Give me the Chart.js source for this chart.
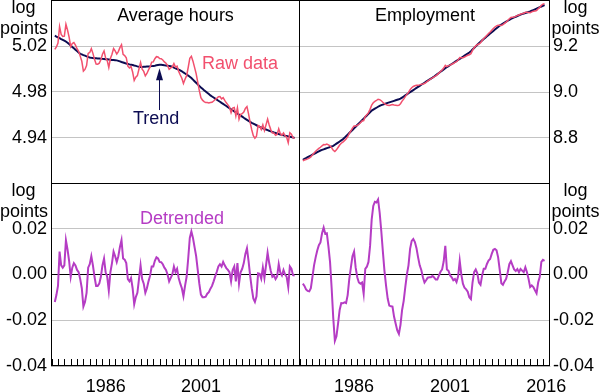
<!DOCTYPE html>
<html>
<head>
<meta charset="utf-8">
<script src="https://cdn.jsdelivr.net/npm/chart.js@4.4.0/dist/chart.umd.min.js"></script>
<style>
  body { margin: 0; background: #fff; }
  #wrap { position: relative; width: 600px; height: 392px; overflow: hidden;
          font-family: "Liberation Sans", Arial, sans-serif; font-size: 18px; color: #000; }
  canvas { position: absolute; }
  .lbl { position: absolute; line-height: 21px; white-space: nowrap; }
</style>
</head>
<body>
<div id="wrap">
  <canvas id="horas" width="300" height="184" style="left:0;top:0"></canvas>
  <canvas id="empleo" width="302" height="184" style="left:299px;top:0"></canvas>
  <canvas id="horasDet" width="300" height="209" style="left:0;top:183px"></canvas>
  <canvas id="empleoDet" width="302" height="209" style="left:299px;top:183px"></canvas>

  <div class="lbl" style="left:0;width:47px;top:-3px;text-align:center">log<br>points</div>
  <div class="lbl" style="left:0;width:47px;top:180px;text-align:center">log<br>points</div>
  <div class="lbl" style="left:551px;width:49px;top:-3px;text-align:center">log<br>points</div>
  <div class="lbl" style="left:551px;width:49px;top:180px;text-align:center">log<br>points</div>

  <div class="lbl" style="left:51px;width:249px;top:5px;text-align:center">Average hours</div>
  <div class="lbl" style="left:300px;width:250px;top:5px;text-align:center">Employment</div>
  <div class="lbl" style="left:202px;top:53px;color:#f2506e">Raw data</div>
  <div class="lbl" style="left:133px;top:108px;color:#0c0c52">Trend</div>
  <div class="lbl" style="left:140px;top:208px;color:#b53cc4">Detrended</div>
</div>

<script>
// datos trimestrales, desde 1978 T3
const inicio = 1978.5;

const hoursRaw = [
  5.0170, 5.0192, 5.0225, 5.0368, 5.0300, 5.0283, 5.0286, 5.0389, 5.0339, 5.0277,
  5.0195, 5.0222, 5.0230, 5.0208, 5.0176, 5.0154, 5.0112, 5.0067, 4.9981, 4.9996,
  5.0030, 5.0135, 5.0144, 5.0177, 5.0136, 5.0084, 5.0043, 5.0042, 5.0051, 5.0080,
  5.0128, 5.0157, 5.0095, 5.0074, 5.0013, 5.0091, 5.0129, 5.0178, 5.0157, 5.0130,
  5.0151, 5.0186, 5.0211, 5.0127, 5.0117, 5.0098, 5.0024, 5.0010, 5.0022, 4.9974,
  4.9900, 4.9928, 4.9943, 5.0000, 5.0057, 4.9998, 4.9979, 4.9940, 4.9961, 4.9992,
  5.0018, 5.0060, 5.0062, 5.0089, 5.0107, 5.0104, 5.0091, 5.0090, 5.0079, 5.0062,
  5.0051, 5.0029, 4.9997, 5.0009, 5.0018, 5.0047, 5.0016, 5.0025, 4.9979, 4.9948,
  4.9920, 4.9875, 4.9911, 4.9942, 5.0013, 5.0093, 5.0110, 5.0068, 5.0014, 4.9960,
  4.9886, 4.9812, 4.9751, 4.9729, 4.9717, 4.9708, 4.9709, 4.9705, 4.9708, 4.9711,
  4.9722, 4.9735, 4.9745, 4.9759, 4.9760, 4.9740, 4.9751, 4.9727, 4.9706, 4.9688,
  4.9669, 4.9620, 4.9661, 4.9666, 4.9592, 4.9663, 4.9564, 4.9605, 4.9611, 4.9626,
  4.9657, 4.9673, 4.9609, 4.9535, 4.9472, 4.9420, 4.9398, 4.9416, 4.9509, 4.9500,
  4.9473, 4.9515, 4.9465, 4.9514, 4.9564, 4.9513, 4.9473, 4.9443, 4.9443, 4.9424,
  4.9431, 4.9480, 4.9438, 4.9423, 4.9444, 4.9420, 4.9407, 4.9359, 4.9446, 4.9433,
  4.9402, 4.9397
];

const hoursTrend = [
  5.0290, 5.0282, 5.0275, 5.0268, 5.0260, 5.0253, 5.0246, 5.0239, 5.0229, 5.0217,
  5.0205, 5.0192, 5.0180, 5.0168, 5.0156, 5.0144, 5.0132, 5.0127, 5.0121, 5.0116,
  5.0110, 5.0105, 5.0099, 5.0097, 5.0096, 5.0094, 5.0093, 5.0092, 5.0091, 5.0090,
  5.0088, 5.0087, 5.0085, 5.0084, 5.0083, 5.0081, 5.0079, 5.0078, 5.0077, 5.0075,
  5.0071, 5.0066, 5.0061, 5.0057, 5.0052, 5.0048, 5.0044, 5.0040, 5.0037, 5.0034,
  5.0030, 5.0027, 5.0023, 5.0020, 5.0017, 5.0018, 5.0019, 5.0020, 5.0021, 5.0022,
  5.0023, 5.0025, 5.0027, 5.0029, 5.0032, 5.0034, 5.0036, 5.0036, 5.0034, 5.0032,
  5.0031, 5.0029, 5.0027, 5.0024, 5.0018, 5.0012, 5.0006, 5.0000, 4.9994, 4.9988,
  4.9980, 4.9970, 4.9961, 4.9952, 4.9943, 4.9933, 4.9922, 4.9908, 4.9894, 4.9880,
  4.9866, 4.9852, 4.9839, 4.9828, 4.9816, 4.9805, 4.9793, 4.9782, 4.9770, 4.9761,
  4.9752, 4.9743, 4.9733, 4.9724, 4.9715, 4.9705, 4.9696, 4.9687, 4.9678, 4.9668,
  4.9659, 4.9650, 4.9641, 4.9631, 4.9622, 4.9613, 4.9604, 4.9595, 4.9586, 4.9576,
  4.9567, 4.9558, 4.9549, 4.9540, 4.9532, 4.9525, 4.9518, 4.9511, 4.9504, 4.9497,
  4.9491, 4.9485, 4.9480, 4.9474, 4.9469, 4.9463, 4.9458, 4.9453, 4.9448, 4.9444,
  4.9439, 4.9435, 4.9430, 4.9427, 4.9424, 4.9420, 4.9417, 4.9414, 4.9411, 4.9408,
  4.9405, 4.9401
];

const hoursDetrended = [
  -0.0120, -0.0090, -0.0050, 0.0100, 0.0040, 0.0030, 0.0040, 0.0150, 0.0110, 0.0060,
  -0.0010, 0.0030, 0.0050, 0.0040, 0.0020, 0.0010, -0.0020, -0.0060, -0.0140, -0.0120,
  -0.0080, 0.0030, 0.0045, 0.0080, 0.0040, -0.0010, -0.0050, -0.0050, -0.0040, -0.0010,
  0.0040, 0.0070, 0.0010, -0.0010, -0.0070, 0.0010, 0.0050, 0.0100, 0.0080, 0.0055,
  0.0080, 0.0120, 0.0150, 0.0070, 0.0065, 0.0050, -0.0020, -0.0030, -0.0015, -0.0060,
  -0.0130, -0.0099, -0.0080, -0.0020, 0.0040, -0.0020, -0.0040, -0.0080, -0.0060, -0.0030,
  -0.0005, 0.0035, 0.0035, 0.0060, 0.0075, 0.0070, 0.0055, 0.0054, 0.0045, 0.0030,
  0.0020, 0.0000, -0.0030, -0.0015, 0.0000, 0.0035, 0.0010, 0.0025, -0.0015, -0.0040,
  -0.0060, -0.0095, -0.0050, -0.0010, 0.0070, 0.0160, 0.0188, 0.0160, 0.0120, 0.0080,
  0.0020, -0.0040, -0.0088, -0.0099, -0.0099, -0.0097, -0.0084, -0.0077, -0.0062, -0.0050,
  -0.0030, -0.0008, 0.0012, 0.0035, 0.0045, 0.0035, 0.0055, 0.0040, 0.0028, 0.0020,
  0.0010, -0.0030, 0.0020, 0.0035, -0.0030, 0.0050, -0.0040, 0.0010, 0.0025, 0.0050,
  0.0090, 0.0115, 0.0060, -0.0005, -0.0060, -0.0105, -0.0120, -0.0095, 0.0005, 0.0003,
  -0.0018, 0.0030, -0.0015, 0.0040, 0.0095, 0.0050, 0.0015, -0.0010, -0.0005, -0.0020,
  -0.0008, 0.0045, 0.0008, -0.0004, 0.0020, 0.0000, -0.0010, -0.0055, 0.0035, 0.0025,
  -0.0003, -0.0004
];

const empRaw = [
  8.7013, 8.7040, 8.7062, 8.7092, 8.7127, 8.7178, 8.7265, 8.7351, 8.7423, 8.7490,
  8.7551, 8.7597, 8.7662, 8.7712, 8.7710, 8.7738, 8.7705, 8.7662, 8.7573, 8.7468,
  8.7415, 8.7483, 8.7586, 8.7694, 8.7772, 8.7819, 8.7885, 8.7951, 8.8055, 8.8194,
  8.8313, 8.8431, 8.8521, 8.8521, 8.8550, 8.8597, 8.8662, 8.8738, 8.8759, 8.8937,
  8.9015, 8.9105, 8.9244, 8.9429, 8.9531, 8.9592, 8.9631, 8.9686, 8.9670, 8.9619,
  8.9553, 8.9491, 8.9450, 8.9420, 8.9412, 8.9433, 8.9454, 8.9431, 8.9424, 8.9416,
  8.9424, 8.9493, 8.9604, 8.9690, 8.9797, 8.9898, 8.9985, 9.0103, 9.0184, 9.0239,
  9.0272, 9.0292, 9.0298, 9.0309, 9.0334, 9.0347, 9.0368, 9.0422, 9.0478, 9.0524,
  9.0569, 9.0619, 9.0660, 9.0702, 9.0754, 9.0822, 9.0891, 9.0953, 9.1040, 9.1159,
  9.1107, 9.1145, 9.1169, 9.1206, 9.1237, 9.1287, 9.1318, 9.1387, 9.1500, 9.1486,
  9.1492, 9.1521, 9.1560, 9.1596, 9.1618, 9.1668, 9.1810, 9.1923, 9.2004, 9.2056,
  9.2085, 9.2141, 9.2241, 9.2329, 9.2389, 9.2469, 9.2543, 9.2609, 9.2689, 9.2764,
  9.2826, 9.2878, 9.2904, 9.2907, 9.2893, 9.2929, 9.2985, 9.3038, 9.3108, 9.3185,
  9.3236, 9.3249, 9.3263, 9.3288, 9.3329, 9.3347, 9.3390, 9.3405, 9.3421, 9.3465,
  9.3465, 9.3459, 9.3445, 9.3484, 9.3508, 9.3525, 9.3543, 9.3621, 9.3678, 9.3774,
  9.3814, 9.3841
];

const empTrend = [
  8.7053, 8.7090, 8.7127, 8.7164, 8.7201, 8.7238, 8.7275, 8.7311, 8.7348, 8.7385,
  8.7423, 8.7457, 8.7482, 8.7507, 8.7532, 8.7558, 8.7583, 8.7608, 8.7633, 8.7658,
  8.7705, 8.7753, 8.7801, 8.7849, 8.7897, 8.7945, 8.8007, 8.8076, 8.8145, 8.8214,
  8.8283, 8.8351, 8.8421, 8.8491, 8.8562, 8.8632, 8.8702, 8.8773, 8.8843, 8.8912,
  8.8981, 8.9050, 8.9119, 8.9189, 8.9231, 8.9274, 8.9316, 8.9358, 8.9400, 8.9429,
  8.9453, 8.9476, 8.9500, 8.9525, 8.9548, 8.9572, 8.9594, 8.9616, 8.9639, 8.9661,
  8.9684, 8.9713, 8.9759, 8.9805, 8.9852, 8.9898, 8.9945, 8.9991, 9.0037, 9.0084,
  9.0130, 9.0177, 9.0223, 9.0269, 9.0314, 9.0359, 9.0403, 9.0447, 9.0492, 9.0536,
  9.0581, 9.0625, 9.0673, 9.0724, 9.0776, 9.0827, 9.0879, 9.0931, 9.0982, 9.1034,
  9.1085, 9.1129, 9.1173, 9.1218, 9.1262, 9.1307, 9.1351, 9.1395, 9.1440, 9.1486,
  9.1532, 9.1579, 9.1625, 9.1671, 9.1718, 9.1776, 9.1845, 9.1913, 9.1982, 9.2051,
  9.2120, 9.2186, 9.2245, 9.2304, 9.2364, 9.2423, 9.2482, 9.2541, 9.2599, 9.2656,
  9.2714, 9.2772, 9.2829, 9.2887, 9.2931, 9.2974, 9.3015, 9.3057, 9.3098, 9.3140,
  9.3178, 9.3209, 9.3241, 9.3273, 9.3305, 9.3337, 9.3366, 9.3388, 9.3411, 9.3433,
  9.3455, 9.3478, 9.3500, 9.3532, 9.3563, 9.3594, 9.3625, 9.3656, 9.3688, 9.3719,
  9.3750, 9.3781
];

const empDetrended = [
  -0.0040, -0.0050, -0.0065, -0.0072, -0.0074, -0.0060, -0.0010, 0.0040, 0.0075, 0.0105,
  0.0128, 0.0140, 0.0180, 0.0205, 0.0178, 0.0180, 0.0122, 0.0054, -0.0060, -0.0190,
  -0.0290, -0.0270, -0.0215, -0.0155, -0.0125, -0.0126, -0.0122, -0.0125, -0.0090, -0.0020,
  0.0030, 0.0080, 0.0100, 0.0030, -0.0012, -0.0035, -0.0040, -0.0035, -0.0084, 0.0025,
  0.0034, 0.0055, 0.0125, 0.0240, 0.0300, 0.0318, 0.0315, 0.0328, 0.0270, 0.0190,
  0.0100, 0.0015, -0.0050, -0.0105, -0.0136, -0.0139, -0.0140, -0.0185, -0.0215, -0.0245,
  -0.0260, -0.0220, -0.0155, -0.0115, -0.0055, 0.0000, 0.0040, 0.0112, 0.0147, 0.0155,
  0.0142, 0.0115, 0.0075, 0.0040, 0.0020, -0.0012, -0.0035, -0.0025, -0.0014, -0.0012,
  -0.0012, -0.0006, -0.0013, -0.0022, -0.0022, -0.0005, 0.0012, 0.0022, 0.0058, 0.0125,
  0.0022, 0.0016, -0.0004, -0.0012, -0.0025, -0.0020, -0.0033, -0.0008, 0.0060, 0.0000,
  -0.0040, -0.0058, -0.0065, -0.0075, -0.0100, -0.0108, -0.0035, 0.0010, 0.0022, 0.0005,
  -0.0035, -0.0045, -0.0004, 0.0025, 0.0025, 0.0046, 0.0061, 0.0068, 0.0090, 0.0108,
  0.0112, 0.0106, 0.0075, 0.0020, -0.0038, -0.0045, -0.0030, -0.0019, 0.0010, 0.0045,
  0.0058, 0.0040, 0.0022, 0.0015, 0.0024, 0.0010, 0.0024, 0.0017, 0.0010, 0.0032,
  0.0010, -0.0019, -0.0055, -0.0048, -0.0055, -0.0069, -0.0082, -0.0035, -0.0010, 0.0055,
  0.0064, 0.0060
];

// eje de tiempo: un punto por trimestre
const quarters = hoursRaw.map((_, i) => inicio + i / 4);

const topTicks = [4.94, 4.98, 5.02];
const empTicks = [8.8, 9.0, 9.2];
const detTicks = [-0.04, -0.02, 0, 0.02];

// flecha de "Trend"
const flechaAnio = 1994.95;
const flechaBase = 4.9643;
const flechaPunta = 5.0006;

const rosa = '#f2506e';
const azul = '#0c0c52';
const morado = '#b53cc4';

Chart.defaults.font.family = '"Liberation Sans", Arial, sans-serif';
Chart.defaults.font.size = 18;
Chart.defaults.color = '#000';

// marco negro alrededor de cada panel
const marco = {
    id: 'marco',
    afterDatasetsDraw(chart) {
        const a = chart.chartArea;
        const ctx = chart.ctx;
        ctx.save();
        ctx.strokeStyle = '#000';
        ctx.lineWidth = 1;
        ctx.strokeRect(Math.round(a.left) + 0.5, Math.round(a.top) + 0.5,
            Math.round(a.right - a.left) - 1, Math.round(a.bottom - a.top) - 1);
        ctx.restore();
    }
};

// marcas de cada año, hacia arriba desde el eje de abajo
const marcas = {
    id: 'marcas',
    afterDraw(chart) {
        const a = chart.chartArea;
        const sx = chart.scales.x;
        const ctx = chart.ctx;
        const abajo = Math.round(a.bottom);
        ctx.save();
        ctx.fillStyle = '#000';
        for (let anio = Math.ceil(sx.min); anio <= sx.max; anio++) {
            const px = Math.round(sx.getPixelForValue(anio));
            ctx.fillRect(px, abajo - 7, 1, 6);
        }
        ctx.restore();
    }
};

const flecha = {
    id: 'flecha',
    afterDatasetsDraw(chart) {
        const ctx = chart.ctx;
        const x = Math.round(chart.scales.x.getPixelForValue(flechaAnio)) + 0.5;
        const y1 = chart.scales.y.getPixelForValue(flechaBase);
        const y2 = chart.scales.y.getPixelForValue(flechaPunta);
        ctx.save();
        ctx.strokeStyle = azul;
        ctx.fillStyle = azul;
        ctx.lineWidth = 1;
        ctx.beginPath();
        ctx.moveTo(x, y1);
        ctx.lineTo(x, y2 + 8);
        ctx.stroke();
        ctx.beginPath();
        ctx.moveTo(x, y2);
        ctx.lineTo(x - 3.5, y2 + 12);
        ctx.lineTo(x + 3.5, y2 + 12);
        ctx.closePath();
        ctx.fill();
        ctx.restore();
    }
};

function cerca(lista, v) {
    return lista.some(m => Math.abs(m - v) < 1e-9);
}

function ejeY(min, max, paso, lado, etiquetas, dec) {
    return {
        position: lado,
        min: min,
        max: max,
        afterFit(s) {
            s.width = 51;
            s.paddingTop = 0;
            s.paddingBottom = 0;
        },
        border: { display: false },
        grid: {
            drawTicks: false,
            color: c => Math.abs(c.tick.value) < 1e-9 ? '#000' : '#c4c4c4'
        },
        ticks: {
            stepSize: paso,
            padding: lado === 'left' ? 4 : 3,
            callback: v => cerca(etiquetas, v) ? v.toFixed(dec) : null
        }
    };
}

function ejeX(visible, etiquetas) {
    return {
        type: 'linear',
        min: 1977.9,
        max: 2017.1,
        display: visible,
        afterFit(s) {
            s.height = visible ? 26 : 0;
            s.paddingLeft = 0;
            s.paddingRight = 0;
        },
        grid: { display: false, drawTicks: false, tickLength: 0 },
        ticks: {
            stepSize: 1,
            includeBounds: false,
            autoSkip: false,
            maxRotation: 0,
            padding: 10,
            labelOffset: 3.2,
            callback: v => etiquetas.includes(v) ? String(v) : ''
        }
    };
}

function serie(valores, color, ancho) {
    return {
        data: valores.map((v, i) => ({ x: quarters[i], y: v })),
        borderColor: color,
        borderWidth: ancho,
        pointRadius: 0,
        tension: 0,
        fill: false
    };
}

function opciones(x, y) {
    return {
        responsive: false,
        animation: false,
        layout: { padding: 0 },
        plugins: { legend: { display: false }, tooltip: { enabled: false } },
        scales: { x: x, y: y }
    };
}

new Chart('horas', {
    type: 'line',
    data: { datasets: [serie(hoursRaw, rosa, 1.5), serie(hoursTrend, azul, 2)] },
    options: opciones(ejeX(false, []), ejeY(4.90, 5.06, 0.04, 'left', topTicks, 2)),
    plugins: [marco, flecha]
});

new Chart('empleo', {
    type: 'line',
    data: { datasets: [serie(empRaw, rosa, 1.5), serie(empTrend, azul, 2)] },
    options: opciones(ejeX(false, []), ejeY(8.6, 9.4, 0.2, 'right', empTicks, 1)),
    plugins: [marco]
});

new Chart('horasDet', {
    type: 'line',
    data: { datasets: [serie(hoursDetrended, morado, 2)] },
    options: opciones(ejeX(true, [1986, 2001]), ejeY(-0.04, 0.04, 0.02, 'left', detTicks, 2)),
    plugins: [marcas, marco]
});

new Chart('empleoDet', {
    type: 'line',
    data: { datasets: [serie(empDetrended, morado, 2)] },
    options: opciones(ejeX(true, [1986, 2001, 2016]), ejeY(-0.04, 0.04, 0.02, 'right', detTicks, 2)),
    plugins: [marcas, marco]
});
</script>
</body>
</html>
